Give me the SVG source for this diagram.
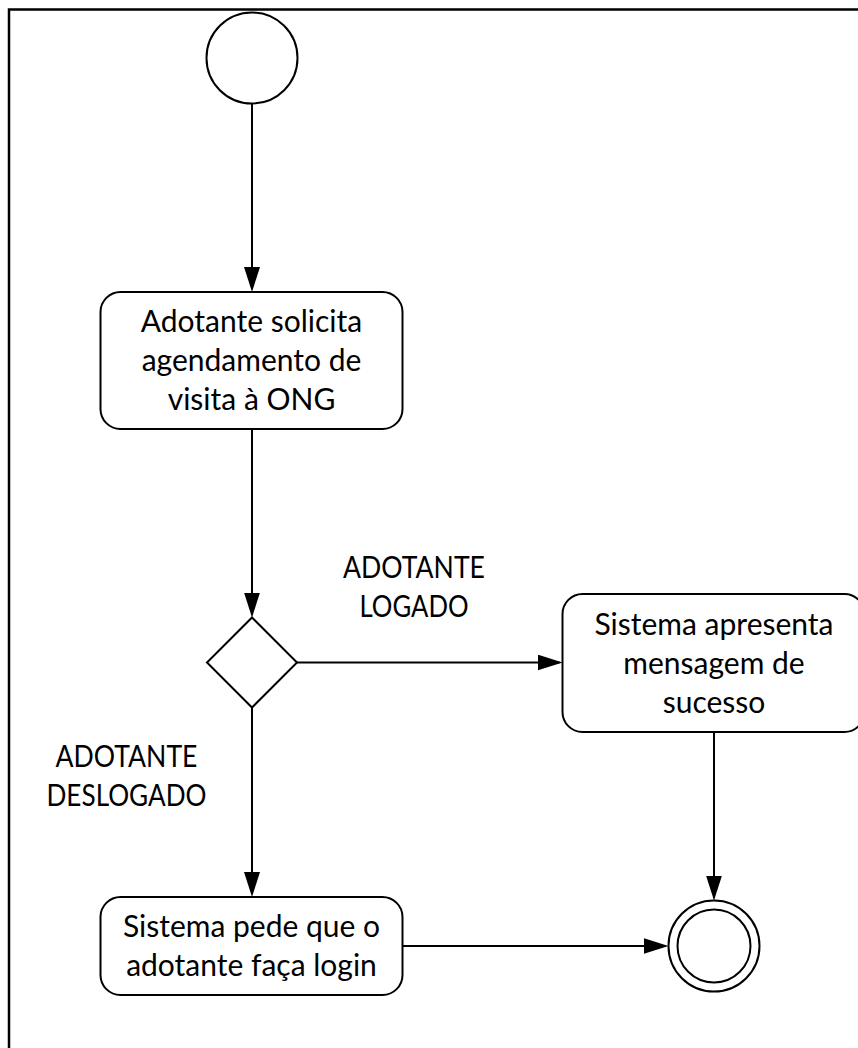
<svg xmlns="http://www.w3.org/2000/svg" width="858" height="1048" viewBox="0 0 858 1048">
  <defs>
    <style>
      .node { fill: #ffffff; stroke: #000000; stroke-width: 2; }
      .frame { fill: none; stroke: #000000; stroke-width: 2.5; }
      .conn { fill: none; stroke: #000000; stroke-width: 2; marker-end: url(#arrow); }
      .t { font-family: Lato, "Liberation Sans", sans-serif; font-size: 30px; fill: #000000; text-anchor: middle; }
    </style>
    <marker id="arrow" markerUnits="userSpaceOnUse" markerWidth="26" markerHeight="17" refX="22" refY="8" orient="auto">
      <path d="M0,0 L25,8 L0,16 z" fill="#000000"/>
    </marker>
  </defs>
  <rect width="858" height="1048" fill="#ffffff"/>
  <rect class="frame" x="9" y="9.5" width="900" height="1100"/>

  <g id="connectors">
    <path class="conn" d="M252 103.5 V289"/>
    <path class="conn" d="M252 429 V614.5"/>
    <path class="conn" d="M297 662.5 H559.5"/>
    <path class="conn" d="M252 707.5 V894"/>
    <path class="conn" d="M714 732 V897.5"/>
    <path class="conn" d="M403 946 H665.5"/>
  </g>

  <g id="start">
    <circle class="node" cx="252" cy="58" r="45.5"/>
  </g>

  <g id="solicita">
    <rect class="node" x="100.5" y="292" width="302" height="137" rx="20"/>
    <text class="t" x="251.5" y="332">Adotante solicita</text>
    <text class="t" x="251.5" y="371">agendamento de</text>
    <text class="t" x="251.5" y="410">visita à ONG</text>
  </g>

  <g id="decision">
    <polygon class="node" points="252,617.5 297,662.5 252,707.5 207,662.5"/>
  </g>

  <g id="label-logado">
    <text class="t" x="414" y="578" textLength="142" lengthAdjust="spacingAndGlyphs">ADOTANTE</text>
    <text class="t" x="414" y="617" textLength="109" lengthAdjust="spacingAndGlyphs">LOGADO</text>
  </g>

  <g id="label-deslogado">
    <text class="t" x="126.5" y="767" textLength="142" lengthAdjust="spacingAndGlyphs">ADOTANTE</text>
    <text class="t" x="126.5" y="806" textLength="160" lengthAdjust="spacingAndGlyphs">DESLOGADO</text>
  </g>

  <g id="sucesso">
    <rect class="node" x="562.5" y="594" width="302" height="138" rx="20"/>
    <text class="t" x="714" y="635">Sistema apresenta</text>
    <text class="t" x="714" y="674">mensagem de</text>
    <text class="t" x="714" y="713">sucesso</text>
  </g>

  <g id="login">
    <rect class="node" x="100.5" y="897" width="302" height="98" rx="20"/>
    <text class="t" x="251.5" y="937">Sistema pede que o</text>
    <text class="t" x="251.5" y="976">adotante faça login</text>
  </g>

  <g id="end">
    <circle class="node" cx="714" cy="946" r="45.5"/>
    <circle class="node" cx="714" cy="946" r="36.5"/>
  </g>
</svg>
